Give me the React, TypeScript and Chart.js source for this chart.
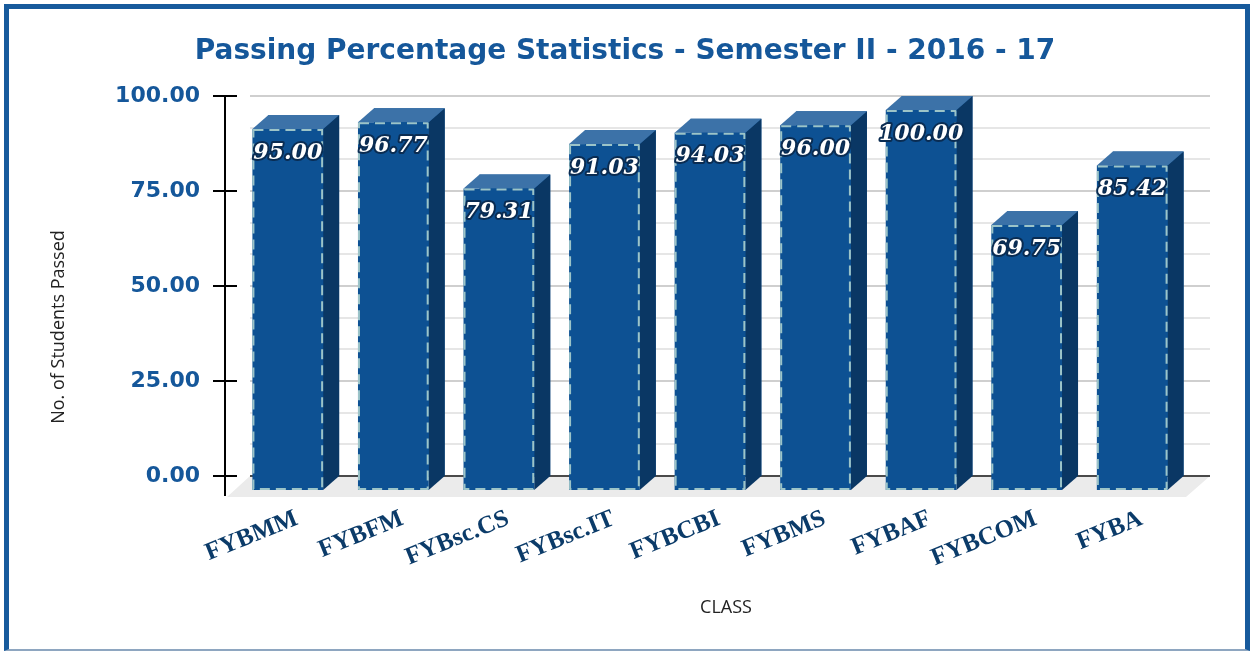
import React, { useEffect, useRef } from "react";
import { Chart, registerables } from "chart.js";

Chart.register(...registerables);

const CATEGORIES = ["FYBMM", "FYBFM", "FYBsc.CS", "FYBsc.IT", "FYBCBI", "FYBMS", "FYBAF", "FYBCOM", "FYBA"];
const PASS_PERCENT = [95.0, 96.77, 79.31, 91.03, 94.03, 96.0, 100.0, 69.75, 85.42];
const Y_MIN = 0;
const Y_MAX = 100;
const Y_LABEL_STEP = 25;
const Y_GRID_STEP = 25 / 3;
const TITLE = "Passing Percentage Statistics - Semester II - 2016 - 17";
const X_TITLE = "CLASS";
const Y_TITLE = "No. of Students Passed";

const BLUE = "#15579a";
const FRONT = "#0d5193";
const TOP = "#3c72a8";
const SIDE = "#0a3764";
const DASH = "#9cc4c8";
const DEPTH_X = -16;
const DEPTH_Y = 14;

const isMajor = (v: number) => Math.abs(v / Y_LABEL_STEP - Math.round(v / Y_LABEL_STEP)) < 1e-6;

const bar3d = {
  id: "bar3d",
  beforeDatasetsDraw(chart: any) {
    const { ctx, chartArea: a, scales } = chart;
    const y = scales.y;
    ctx.save();
    // floor
    ctx.fillStyle = "#ebebeb";
    ctx.beginPath();
    ctx.moveTo(a.left - 1, a.bottom);
    ctx.lineTo(a.right + 9, a.bottom);
    ctx.lineTo(a.right - 15, a.bottom + 21);
    ctx.lineTo(a.left - 24, a.bottom + 21);
    ctx.closePath();
    ctx.fill();
    // grid lines
    y.ticks.forEach((t: any) => {
      const py = Math.round(y.getPixelForValue(t.value));
      const zero = Math.abs(t.value) < 1e-6;
      ctx.strokeStyle = zero ? "#4a4a4a" : isMajor(t.value) ? "#cfcfcf" : "#e6e6e6";
      ctx.lineWidth = 2;
      ctx.beginPath();
      ctx.moveTo(a.left - 1, py);
      ctx.lineTo(a.right + 9, py);
      ctx.stroke();
    });
    // axis line + tick marks
    const ax = a.left - 26;
    ctx.strokeStyle = "#000";
    ctx.lineWidth = 2;
    ctx.beginPath();
    ctx.moveTo(ax, y.getPixelForValue(Y_MAX));
    ctx.lineTo(ax, a.bottom + 20);
    ctx.stroke();
    y.ticks.forEach((t: any) => {
      if (!isMajor(t.value)) return;
      const py = Math.round(y.getPixelForValue(t.value));
      ctx.beginPath();
      ctx.moveTo(ax - 12, py);
      ctx.lineTo(ax + 12, py);
      ctx.stroke();
    });
    ctx.restore();
  },
  afterDatasetsDraw(chart: any) {
    const { ctx } = chart;
    const meta = chart.getDatasetMeta(0);
    ctx.save();
    meta.data.forEach((bar: any, i: number) => {
      const { x, y, base, width } = bar.getProps(["x", "y", "base", "width"], true);
      const bl = x - width / 2;
      const br = x + width / 2;
      const fl = bl + DEPTH_X;
      const fr = br + DEPTH_X;
      const ft = y + DEPTH_Y;
      const fb = base + DEPTH_Y;
      // side
      ctx.fillStyle = SIDE;
      ctx.beginPath();
      ctx.moveTo(fr, ft);
      ctx.lineTo(br, y);
      ctx.lineTo(br, base);
      ctx.lineTo(fr, fb);
      ctx.closePath();
      ctx.fill();
      // top
      ctx.fillStyle = TOP;
      ctx.beginPath();
      ctx.moveTo(fl, ft);
      ctx.lineTo(bl, y);
      ctx.lineTo(br, y);
      ctx.lineTo(fr, ft);
      ctx.closePath();
      ctx.fill();
      // front
      ctx.fillStyle = FRONT;
      ctx.fillRect(fl, ft, fr - fl, fb - ft);
      ctx.setLineDash([10, 6]);
      ctx.strokeStyle = DASH;
      ctx.lineWidth = 2;
      ctx.strokeRect(fl + 1, ft + 1, fr - fl - 2, fb - ft - 2);
      ctx.setLineDash([]);
      // value label
      const label = PASS_PERCENT[i].toFixed(2);
      ctx.font = 'bold italic 22px "DejaVu Serif"';
      ctx.textAlign = "center";
      ctx.textBaseline = "middle";
      ctx.lineJoin = "round";
      ctx.lineWidth = 4;
      ctx.strokeStyle = "#0a2c52";
      ctx.strokeText(label, x + DEPTH_X, ft + 24);
      ctx.fillStyle = "#ffffff";
      ctx.fillText(label, x + DEPTH_X, ft + 24);
    });
    ctx.restore();
  },
  afterDraw(chart: any) {
    const { ctx } = chart;
    ctx.save();
    ctx.font = '18px "Open Sans"';
    ctx.fillStyle = "#222";
    ctx.textAlign = "center";
    ctx.textBaseline = "middle";
    ctx.translate(59, 327);
    ctx.rotate(-Math.PI / 2);
    ctx.fillText(Y_TITLE, 0, 0);
    ctx.restore();
  },
};

export default function App() {
  const ref = useRef<HTMLCanvasElement | null>(null);
  useEffect(() => {
    if (!ref.current) return;
    const chart = new Chart(ref.current, {
      type: "bar",
      data: {
        labels: CATEGORIES,
        datasets: [
          {
            label: "Passing %",
            data: PASS_PERCENT,
            backgroundColor: FRONT,
            borderWidth: 0,
            barPercentage: 0.67,
            categoryPercentage: 1,
          },
        ],
      },
      options: {
        responsive: false,
        animation: false,
        devicePixelRatio: 1,
        layout: { padding: 0 },
        plugins: {
          legend: { display: false },
          tooltip: { enabled: false },
          title: {
            display: true,
            text: TITLE,
            color: BLUE,
            font: { family: '"DejaVu Sans"', size: 28, weight: "bold" },
            padding: { top: 35.2, bottom: 27.2 },
          },
        },
        scales: {
          x: {
            grid: { display: false, drawTicks: false },
            border: { display: false },
            ticks: {
              autoSkip: false,
              minRotation: 22,
              maxRotation: 22,
              padding: 28,
              labelOffset: -7,
              color: "#0b3b69",
              font: { family: '"Liberation Serif"', size: 25, weight: "bold" },
            },
            title: {
              display: true,
              text: X_TITLE,
              color: "#222",
              font: { family: '"Open Sans"', size: 18 },
              padding: { top: 0, bottom: 33 },
            },
            afterFit: (s: any) => {
              s.height = 176;
            },
          },
          y: {
            min: Y_MIN,
            max: Y_MAX,
            grid: { display: false, drawTicks: false },
            border: { display: false },
            ticks: {
              stepSize: Y_GRID_STEP,
              padding: 51,
              color: BLUE,
              font: { family: '"DejaVu Sans"', size: 22, weight: "bold" },
              callback: (v: any) => (isMajor(Number(v)) ? Number(v).toFixed(2) : ""),
            },
            afterFit: (s: any) => {
              s.width = 251;
            },
          },
          yRight: {
            position: "right",
            min: Y_MIN,
            max: Y_MAX,
            grid: { display: false, drawTicks: false },
            border: { display: false },
            ticks: { display: false },
            afterFit: (s: any) => {
              s.width = 49;
            },
          },
        },
      },
      plugins: [bar3d],
    });
    return () => chart.destroy();
  }, []);

  return (
    <div style={{ position: "fixed", left: 0, top: 0, width: 1250, height: 652, background: "#fff" }}>
      <div
        style={{
          position: "absolute",
          left: 4,
          top: 4,
          width: 1246,
          height: 647,
          boxSizing: "border-box",
          borderTop: "5px solid #175a9c",
          borderLeft: "5px solid #175a9c",
          borderRight: "5px solid #175a9c",
          borderBottom: "2px solid #8ea6c0",
        }}
      />
      <canvas ref={ref} width={1250} height={652} style={{ position: "absolute", left: 0, top: 0 }} />
    </div>
  );
}
